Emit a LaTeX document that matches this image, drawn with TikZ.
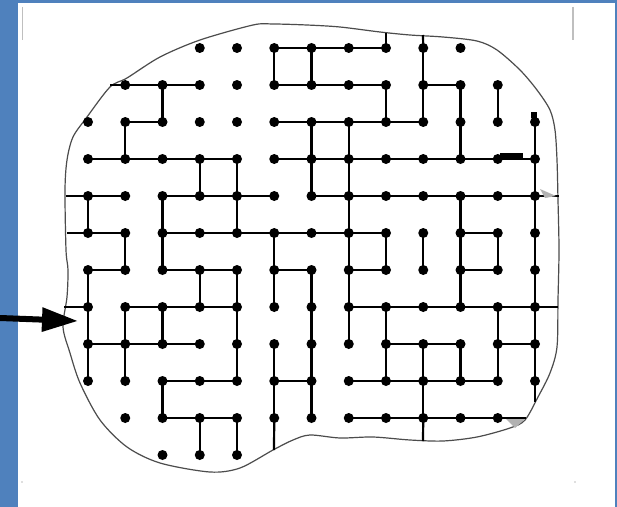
\documentclass[tikz,border=0pt]{standalone}
\usetikzlibrary{arrows.meta}
\definecolor{frameblue}{RGB}{79,129,189}

\begin{document}
\begin{tikzpicture}[
    x=0.05cm, y=-0.05cm,
    mazedot/.style={
        circle,
        fill=black,
        inner sep=0pt,
        minimum size=0.5cm
    },
    passage/.style={
        line width=0.11cm,
        black
    },
    rim/.style={
        line width=0.06cm,
        black!70
    },
    cropmark/.style={
        line width=0.06cm,
        black!25
    },
    pointer/.style={
        line width=0.3cm,
        -{Triangle[length=1.8cm 0 0, width=1.15cm 0]}
    }
]
    \useasboundingbox (0,0) rectangle (617,507);

    % Frame
    \fill[frameblue] (0,0) rectangle (617,507);
    \fill[white] (18,3) rectangle (615,507);
    \draw[cropmark] (22.7,7) -- (22.7,40);
    \draw[cropmark] (573,7) -- (573,40);
    \fill[black!25] (22,482) circle (0.8);
    \fill[black!25] (575,482) circle (0.8);

    % Outline of the region
    \draw[rim] plot[smooth cycle] coordinates {
        (66,250) (65,190) (67,160) (73,137) (87,117) (110,87) (127,78)
        (160,57) (200,40) (253,25) (273,24) (307,25) (340,27) (380,32)
        (410,35) (443,37) (477,41) (497,50) (520,70) (537,90) (550,110)
        (555,130) (557,160) (558,200) (559,250) (558,300) (557,347)
        (550,373) (538,397) (525,420) (510,428) (477,437) (443,441)
        (410,440) (373,437) (340,438) (310,435) (293,440) (273,450)
        (240,468) (210,472) (160,463) (127,447) (100,420) (80,383)
        (70,353) (63,327) (67,297) (68,270)};

    % Open ends on the outline
    \coordinate (bL1) at (110,85);
    \coordinate (bL4) at (66,196);
    \coordinate (bR4) at (559,196);
    \coordinate (bL5) at (67,233);
    \coordinate (bL7) at (64,307);
    \coordinate (bR7) at (558,307);
    \coordinate (bR10) at (526,418);
    \coordinate (bT8) at (386,33);
    \coordinate (bT9) at (423,35);
    \coordinate (bB5) at (274,450);
    \coordinate (bB9) at (423,441);
    \coordinate (bB12) at (535,402);

    % Grid points
    \foreach \r/\a/\b in {0/3/10, 1/1/11, 2/0/12, 3/0/12, 4/0/12, 5/0/12,
                          6/0/12, 7/0/12, 8/0/12, 9/0/12, 10/1/11, 11/2/4}
        \foreach \c in {\a,...,\b}
            \node[mazedot] (p-\c-\r) at ({88+37.25*\c},{48+37*\r}) {};

    % Horizontal passages (row / left columns)
    \foreach \r/\cs in {0/{5,6,7}, 1/{1,2,5,6,7,9}, 2/{1,5,6,7,8},
                        3/{0,1,2,3,5,6,7,8,9,10,11}, 4/{0,2,3,4,6,7,8,9,10,11},
                        5/{0,2,3,4,5,6,7,10}, 6/{0,2,3,5,7,10},
                        7/{1,2,3,7,8,9,10,11}, 8/{0,1,2,8,9,11},
                        9/{2,3,5,7,8,9,10}, 10/{2,3,7,8,9,10}}
        \foreach \c in \cs {
            \pgfmathtruncatemacro\n{\c+1}
            \draw[passage] (p-\c-\r.center) -- (p-\n-\r.center);
        }

    % Vertical passages (column / upper rows)
    \foreach \c/\rs in {0/{4,6,7,8}, 1/{2,5,7,8}, 2/{1,4,5,7,9}, 3/{3,6,10},
                        4/{3,4,6,7,8,10}, 5/{0,5,6,8,9}, 6/{0,2,3,6,7,8,9},
                        7/{2,3,4,5,6,7}, 8/{1,5,7,8}, 9/{0,1,5,8,9},
                        10/{1,2,4,5,6,8}, 11/{1,5,7,8}, 12/{2,3,4,5,6,7,8}}
        \foreach \r in \rs {
            \pgfmathtruncatemacro\n{\r+1}
            \draw[passage] (p-\c-\r.center) -- (p-\c-\n.center);
        }

    % Passages running out to the outline
    \draw[passage] (bL1) -- (p-1-1.center);
    \draw[passage] (bL4) -- (p-0-4.center);
    \draw[passage] (p-12-4.center) -- (bR4);
    \draw[passage] (bL5) -- (p-0-5.center);
    \draw[passage] (bL7) -- (p-0-7.center);
    \draw[passage] (p-12-7.center) -- (bR7);
    \draw[passage] (p-11-10.center) -- (bR10);
    \draw[passage] (bT8) -- (p-8-0.center);
    \draw[passage] (bT9) -- (p-9-0.center);
    \draw[passage] (p-5-10.center) -- (bB5);
    \draw[passage] (p-9-10.center) -- (bB9);
    \draw[passage] (p-12-9.center) -- (bB12);

    % Marks on the sheet
    \fill[black] (500,153) rectangle (523,159);
    \fill[black] (531,112) rectangle (537,118);
    \fill[black!30] (540,189) -- (556,196) -- (545,198) -- cycle;
    \fill[black!30] (506,419) -- (525,419) -- (515,428) -- cycle;

    % Entrance
    \coordinate (arrowtail) at (0,318);
    \coordinate (arrowtip) at (78,321);
    \draw[pointer] (arrowtail) -- (arrowtip);

\end{tikzpicture}
\end{document}
